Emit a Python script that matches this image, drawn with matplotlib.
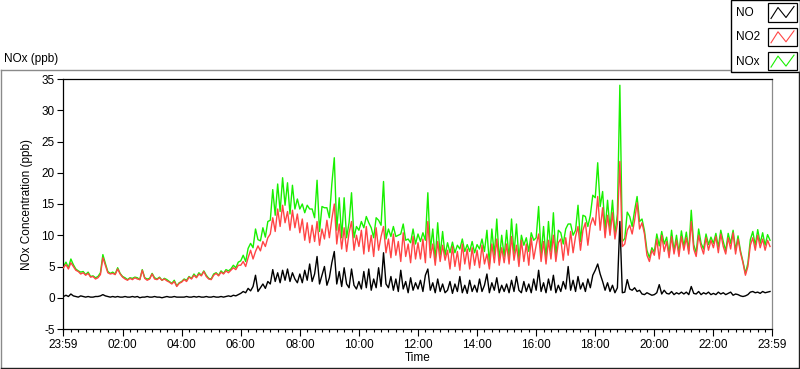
import matplotlib
matplotlib.use("Agg")
import matplotlib.pyplot as plt
import numpy as np
from matplotlib.lines import Line2D
from matplotlib.patches import Rectangle

plt.rcParams['font.family'] = ['Liberation Sans', 'DejaVu Sans']

# ---------------- data (5-minute readings, 00:00 .. 23:55) ----------------
series_names = ["NO", "NO2", "NOx"]
series_colors = ["#000000", "#ff4545", "#18f000"]

no2 = [
    # 00h
    4.8, 5.3, 4.6, 5.6, 5.0, 4.4, 4.2, 3.8, 4.0, 3.6, 3.9, 3.3,
    # 01h
    3.4, 3.0, 3.2, 3.7, 6.4, 5.2, 4.0, 3.8, 3.9, 3.7, 4.6, 3.8,
    # 02h
    3.3, 3.0, 2.8, 3.1, 2.9, 3.2, 3.0, 2.9, 4.4, 3.1, 2.8, 3.0,
    # 03h
    3.8, 3.0, 2.9, 3.2, 2.8, 3.0, 2.7, 2.5, 2.2, 2.6, 1.8, 2.3,
    # 04h
    2.5, 2.9, 2.6, 3.3, 3.0, 3.6, 3.2, 3.8, 3.5, 4.2, 3.4, 3.0,
    # 05h
    2.9, 3.6, 3.9, 3.5, 4.1, 3.8, 4.3, 4.0, 4.4, 4.8, 4.5, 5.2,
    # 06h
    5.2, 5.8, 5.0, 6.4, 7.6, 6.2, 7.4, 8.3, 7.5, 9.0, 8.2, 9.6,
    # 07h
    10.2, 12.8, 10.6, 14.2, 11.4, 14.8, 12.0, 13.8, 10.8, 14.0, 11.2, 13.4,
    # 08h
    10.4, 12.6, 9.2, 12.0, 8.8, 11.6, 9.0, 12.2, 8.4, 11.0, 9.4, 12.4,
    # 09h
    9.6, 12.6, 15.0, 8.6, 11.8, 7.8, 11.2, 7.4, 10.4, 12.2, 7.6, 10.0,
    # 10h
    8.2, 10.8, 7.0, 11.4, 7.4, 10.0, 6.6, 11.2, 7.6, 9.8, 11.4, 7.2,
    # 11h
    9.4, 6.4, 10.2, 6.8, 9.0, 5.8, 10.4, 6.6, 8.6, 5.6, 9.8, 6.2,
    # 12h
    8.8, 6.2, 9.4, 5.6, 12.2, 6.4, 8.6, 5.2, 9.0, 5.8, 8.4, 6.0,
    # 13h
    7.6, 4.6, 8.2, 5.0, 7.4, 4.4, 8.6, 5.4, 7.8, 4.6, 8.0, 5.2,
    # 14h
    7.6, 4.8, 8.4, 5.4, 7.0, 4.6, 8.6, 5.6, 9.4, 5.2, 8.0, 5.6,
    # 15h
    8.6, 5.4, 9.8, 6.0, 8.4, 5.0, 9.2, 5.8, 8.6, 5.2, 9.6, 6.2,
    # 16h
    8.4, 10.2, 5.8, 9.0, 5.4, 9.2, 6.2, 10.0, 5.8, 8.8, 9.4, 6.0,
    # 17h
    9.6, 6.8, 10.6, 7.2, 9.8, 11.4, 7.6, 10.8, 12.0, 8.4, 11.6, 12.8,
    # 18h
    11.6, 16.2, 10.8, 14.4, 9.6, 13.2, 10.0, 13.6, 9.4, 11.8, 21.8, 8.2,
    # 19h
    8.6, 10.8, 11.6, 10.2, 12.4, 15.2, 11.0, 12.0, 10.2, 6.8, 5.8, 7.6,
    # 20h
    6.8, 9.4, 6.2, 10.0, 7.4, 9.0, 6.4, 9.8, 7.0, 9.2, 6.6, 9.8,
    # 21h
    7.6, 9.6, 7.0, 12.2, 7.8, 6.6, 10.0, 8.2, 7.0, 9.6, 7.6, 9.2,
    # 22h
    8.0, 9.8, 7.2, 10.2, 8.2, 7.0, 9.6, 7.8, 10.4, 7.0, 9.4, 7.2,
    # 23h
    5.6, 3.6, 5.0, 8.4, 9.6, 7.6, 10.0, 8.0, 9.4, 7.6, 9.2, 8.2,
]

no = [
    # 00h
    0.2, 0.4, 0.2, 0.6, 0.3, 0.2, 0.1, 0.3, 0.2, 0.1, 0.2, 0.1,
    # 01h
    0.1, 0.2, 0.2, 0.3, 0.5, 0.3, 0.2, 0.1, 0.2, 0.1, 0.2, 0.1,
    # 02h
    0.1, 0.2, 0.1, 0.1, 0.2, 0.1, 0.2, 0.0, 0.1, 0.1, 0.2, 0.1,
    # 03h
    0.1, 0.2, 0.1, 0.1, 0.0, 0.1, 0.2, 0.1, 0.1, 0.2, 0.1, 0.1,
    # 04h
    0.1, 0.1, 0.2, 0.1, 0.1, 0.2, 0.1, 0.2, 0.1, 0.1, 0.2, 0.1,
    # 05h
    0.1, 0.2, 0.1, 0.1, 0.2, 0.1, 0.2, 0.3, 0.2, 0.4, 0.3, 0.5,
    # 06h
    0.7, 1.0, 0.8, 1.5, 1.1, 1.8, 3.6, 1.0, 1.6, 2.2, 1.5, 2.6,
    # 07h
    2.2, 4.5, 2.6, 4.0, 2.4, 4.4, 2.8, 4.6, 2.6, 4.0, 3.0, 2.4,
    # 08h
    3.8, 2.4, 4.4, 2.8, 5.4, 2.6, 3.8, 6.6, 2.2, 3.6, 5.0, 2.0,
    # 09h
    3.2, 5.6, 7.4, 2.2, 4.2, 1.8, 4.8, 2.2, 1.6, 4.6, 2.0, 1.4,
    # 10h
    2.6, 1.4, 4.2, 1.6, 4.6, 1.2, 3.0, 1.6, 4.8, 1.8, 7.2, 2.2,
    # 11h
    1.6, 3.4, 1.2, 3.0, 1.0, 4.4, 1.4, 2.6, 0.8, 3.2, 1.2, 2.4,
    # 12h
    1.4, 2.8, 1.0, 3.6, 4.6, 1.2, 2.4, 0.8, 3.0, 1.0, 2.2, 0.8,
    # 13h
    1.2, 2.6, 0.7, 2.2, 1.0, 3.4, 0.8, 2.0, 0.7, 2.8, 1.0, 2.0,
    # 14h
    0.9, 3.0, 1.0, 2.0, 3.8, 0.8, 2.4, 1.2, 3.2, 0.8, 2.0, 1.0,
    # 15h
    2.2, 0.8, 2.8, 1.0, 3.4, 1.2, 0.8, 2.6, 1.0, 2.2, 0.8, 3.0,
    # 16h
    1.2, 4.4, 1.0, 2.4, 0.8, 3.0, 1.2, 3.6, 0.8, 2.0, 1.0, 2.6,
    # 17h
    1.4, 5.0, 1.2, 2.8, 1.0, 3.4, 1.4, 2.4, 1.0, 3.0, 1.6, 3.6,
    # 18h
    4.4, 5.4, 3.8, 2.6, 1.2, 2.4, 1.0, 2.0, 0.8, 1.6, 12.2, 0.8,
    # 19h
    0.9, 2.9, 1.4, 1.2, 1.6, 1.0, 1.2, 0.6, 0.5, 0.8, 0.6, 0.4,
    # 20h
    0.5, 0.8, 2.1, 0.6, 1.2, 0.7, 0.6, 1.0, 0.5, 0.8, 0.6, 0.9,
    # 21h
    0.6, 0.9, 0.5, 1.8, 0.7, 0.6, 1.0, 0.5, 0.8, 0.6, 0.9, 0.5,
    # 22h
    0.7, 0.5, 0.9, 0.6, 0.8, 0.5, 0.7, 0.9, 0.4, 0.6, 0.5, 0.3,
    # 23h
    0.2, 0.3, 0.5, 0.9, 1.0, 0.8, 0.9, 0.7, 1.0, 0.8, 0.9, 1.0,
]

# NOx is by definition NO + NO2
nox = [a + b for a, b in zip(no, no2)]

sample_minutes = 5
x_tick_minutes = [-1, 120, 240, 360, 480, 600, 720, 840, 960, 1080, 1200, 1320, 1439]
x_tick_labels = ["23:59", "02:00", "04:00", "06:00", "08:00", "10:00", "12:00",
                 "14:00", "16:00", "18:00", "20:00", "22:00", "23:59"]
y_ticks = [-5, 0, 5, 10, 15, 20, 25, 30, 35]

# ---------------- figure ----------------
W, H = 800, 369
fig = plt.figure(figsize=(W / 100, H / 100), dpi=100)
fig.patch.set_facecolor("white")

def fx(px):
    return px / W

def fy(py):
    return 1 - py / H

L, R, T, B = 63, 772, 79, 329
ax = fig.add_axes([fx(L), fy(B), (R - L) / W, (B - T) / H])

t = np.arange(len(no2)) * sample_minutes
ax.plot(t, nox, color=series_colors[2], lw=1.0, zorder=2)
ax.plot(t, no2, color=series_colors[1], lw=1.0, zorder=3)
ax.plot(t, no, color=series_colors[0], lw=1.0, zorder=4)

ax.set_xlim(x_tick_minutes[0], x_tick_minutes[-1])
ax.set_ylim(y_ticks[0], y_ticks[-1])
ax.set_xticks(x_tick_minutes)
ax.set_xticklabels(x_tick_labels)
ax.set_xticks(np.arange(0, 1440, 15), minor=True)
ax.set_yticks(y_ticks)
ax.set_yticklabels([str(v) for v in y_ticks])

ax.tick_params(axis="both", which="major", direction="out", length=4, width=0.8,
               labelsize=8.5, colors="black", pad=2)
ax.tick_params(axis="x", which="minor", direction="out", length=2.5, width=0.8)
ax.tick_params(axis="x", which="major", length=5)

for side in ["left", "bottom", "top"]:
    ax.spines[side].set_color("black")
    ax.spines[side].set_linewidth(0.9)
ax.spines["right"].set_color("#8a8a8a")
ax.spines["right"].set_linewidth(0.9)

ax.set_xlabel("Time", fontsize=8.5, labelpad=1)
ax.set_ylabel("NOx Concentration (ppb)", fontsize=8.5, labelpad=6)

# outer frame
frame_kw = dict(transform=fig.transFigure, lw=1.0)
fig.add_artist(Line2D([fx(0.5), fx(730)], [fy(69.5), fy(69.5)], color="#8a8a8a", **frame_kw))
fig.add_artist(Line2D([fx(0.8), fx(0.8)], [fy(69.5), fy(367.5)], color="#8a8a8a", **frame_kw))
fig.add_artist(Line2D([fx(0.5), fx(798.5)], [fy(367.5), fy(367.5)], color="#202020", **frame_kw))
fig.add_artist(Line2D([fx(798.5), fx(798.5)], [fy(72), fy(367.5)], color="#202020", **frame_kw))

fig.text(fx(4), fy(59), "NOx (ppb)", fontsize=8.5, va="center", ha="left")

# legend block (top-right)
fig.add_artist(Rectangle((fx(730.5), fy(72)), fx(799.5) - fx(730.5), fy(0) - fy(72),
                         transform=fig.transFigure, facecolor="white",
                         edgecolor="black", lw=1.0))
legend_order = [0, 1, 2]
for row, idx in enumerate(legend_order):
    y0 = 3.5 + 24.3 * row
    fig.text(fx(736), fy(y0 + 9.5), series_names[idx], fontsize=8.5,
             va="center", ha="left")
    fig.add_artist(Rectangle((fx(768), fy(y0 + 18)), fx(797) - fx(768), fy(y0) - fy(y0 + 18),
                             transform=fig.transFigure, facecolor="white",
                             edgecolor="black", lw=0.9))
    zx = [771, 778, 786, 794]
    zy = [y0 + 15, y0 + 4, y0 + 14, y0 + 3]
    fig.add_artist(Line2D([fx(v) for v in zx], [fy(v) for v in zy],
                          transform=fig.transFigure, color=series_colors[idx], lw=0.8))

fig.savefig("out.png", dpi=100)
